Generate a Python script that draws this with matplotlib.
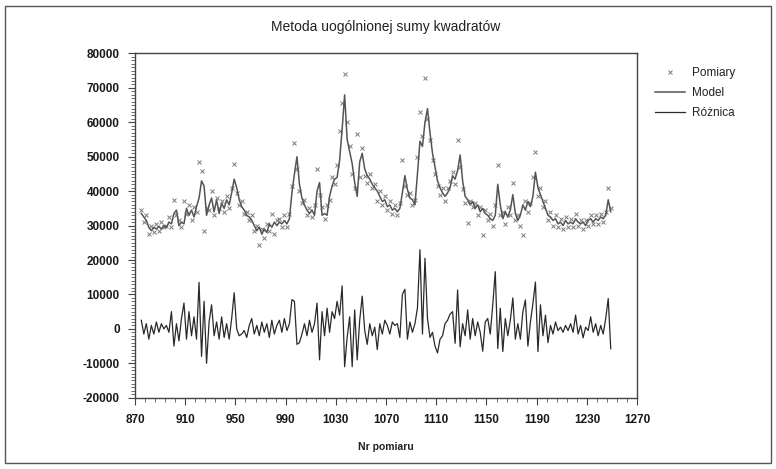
import numpy as np
import matplotlib
matplotlib.use("Agg")
import matplotlib.pyplot as plt
from matplotlib.patches import Rectangle
from matplotlib.ticker import FixedLocator, MultipleLocator

plt.rcParams['font.family'] = ['Liberation Sans', 'DejaVu Sans']
plt.rcParams['axes.unicode_minus'] = False

# numery pomiarow (co drugi pomiar)
nr = np.arange(875, 1250, 2)

# linia modelu
model = [
    33500, 32500, 31500, 29500, 28500, 29500, 29000, 29800, 29000, 30000,
    29500, 31000, 30500, 33500, 34500, 30000, 31000, 30500, 35000, 33000,
    34500, 32500, 35500, 38000, 43000, 41500, 33000, 36000, 38000, 34000,
    37500, 33500, 36500, 35000, 37500, 36000, 39500, 43500, 41000, 37500,
    35500, 34500, 33000, 32500, 31500, 30000, 28500, 29500, 27500, 29000,
    28000, 30500, 29500, 31000, 30000, 31000, 30500, 31500, 30500, 32000,
    39500, 45000, 50000, 42000, 38000, 36000, 34500, 33500, 34500, 33000,
    40000, 42500, 33000, 33500, 33000, 38500, 41500, 43500, 44000, 49000,
    58000, 68000, 55000, 51500, 48000, 42500, 38500, 48500, 51000, 46500,
    44500, 43500, 42000, 41000, 40000, 38500, 37000, 37500, 35500, 36000,
    34500, 35000, 34000, 35000, 39500, 44500, 40500, 38000, 37500, 36000,
    45000, 54500, 53000, 60000, 64000, 57000, 51000, 47000, 43000, 41000,
    39500, 38500, 39500, 41000, 44500, 43500, 46000, 50500, 43000, 38500,
    37500, 36000, 37000, 35000, 36000, 34000, 35000, 33500, 33000, 32000,
    31500, 33000, 42000, 36000, 32000, 34000, 32500, 34500, 39000, 33500,
    31500, 33000, 36000, 34500, 37000, 35500, 38500, 45500, 41000, 39000,
    37000, 35000, 33000, 32500, 31500, 32000, 30500, 31000, 30000, 31500,
    30500, 31000, 30500, 32000, 31000, 30500, 31000, 30000, 31500, 32000,
    31000, 32000, 31500, 32500, 32000, 33000, 37500, 34000,
]

# pomiary
pomiary = [
    34500, 31000, 33000, 27500, 30000, 28000, 30500, 28500, 31000, 29500,
    30000, 32500, 29500, 37500, 33000, 31500, 29500, 37000, 33500, 36000,
    31500, 35500, 34000, 48500, 46000, 28500, 35000, 34500, 40000, 33000,
    38000, 35000, 37000, 34000, 38500, 35000, 41000, 48000, 39500, 36000,
    37000, 33500, 34000, 31500, 33000, 28500, 30000, 24500, 29000, 26500,
    30500, 28500, 33500, 27500, 31500, 32000, 29500, 33000, 29500, 33500,
    41500, 54000, 46500, 40000, 36500, 37500, 33000, 35000, 32500, 36000,
    46500, 39000, 35500, 32000, 36000, 37500, 44000, 42000, 47500, 57500,
    65500, 74000, 60000, 53000, 45000, 41000, 56500, 44000, 52500, 44500,
    42500, 45000, 41000, 42000, 37000, 40000, 36000, 38500, 34500, 37000,
    33500, 36000, 33000, 36500, 49000, 41500, 39000, 39500, 36000, 37500,
    50000, 63000, 56000, 73000, 61000, 55000, 49000, 45000, 41500, 39000,
    41000, 37000, 41000, 43000, 45500, 42000, 55000, 47000, 40500, 36500,
    30800, 37000, 35500, 36500, 33000, 35500, 27300, 34500, 31500, 33500,
    30000, 36000, 47500, 33000, 34000, 30500, 35500, 33000, 42500, 31500,
    33000, 30000, 27300, 37000, 34000, 36500, 44000, 51500, 38500, 41000,
    35500, 37000, 31500, 34000, 30000, 33000, 29500, 32000, 29000, 32500,
    29500, 32000, 29500, 33500, 30000, 31500, 29000, 31500, 30000, 33000,
    30500, 33000, 30500, 33500, 31000, 34000, 41000, 35000,
]

# roznica
roznica = [
    2500, -1500, 1500, -3000, 1000, -1500, 2000, -1000, 1500, 0,
    1000, -1000, 5000, -5000, 1500, -3500, 3000, 7500, -3000, 5000,
    -2000, 3500, -3000, 13500, -8000, 8000, -10000, 2000, 7000, -2000,
    2000, -3000, 3500, -2500, 1500, -3000, 3000, 10500, 0, -2000,
    -1500, -500, -2500, 1000, 3000, -1500, 1000, -2000, 2000, -1000,
    1500, -2500, 2500, -1500, 1000, 2500, -1000, 3000, -500, 1500,
    8500, 8000, -4500, -4000, -1500, 1500, -2000, 2500, -1000, 1500,
    7500, -9000, 5000, -2000, 6000, -1000, 5000, 3000, 8000, 4000,
    12500, -11000, -2500, 3500, -11000, 5500, -9000, 2500, 9500, -500,
    -4500, 1500, -2000, 500, -6000, 1500, -1500, 2500, 1000, -1500,
    2000, 1000, 1500, -2500, 10000, 11500, -3000, 2000, -1000, 1500,
    6000, 23000, -1500, 20500, 3000, -2500, -1000, -5000, -7000, -3000,
    -2000, 1500, 2500, 4300, 5000, -4200, 11300, -5200, 1500, -2000,
    5500, -3000, 3000, -2000, 2000, -1000, -6500, 2000, 3000, -1500,
    7000, 16600, -5700, 6000, -6600, 3000, -2000, 2500, 9000, -3000,
    1500, -3000, 5000, 8400, -5000, 2000, 7400, 13600, -6600, 7000,
    -2000, 4000, -4000, 1000, -1500, 2000, -500, 500, -1000, 1000,
    -500, 1500, -1000, 4000, -1500, 1000, -2600, 500, -500, 3500,
    -1000, 1500, -2000, 1000, -1500, 3000, 8800, -5800,
]

x_ticks = np.arange(870, 1271, 40)

fig = plt.figure(figsize=(7.76, 4.69), dpi=100)
ax = fig.add_axes([0.174, 0.152, 0.647, 0.734])

ax.plot(nr, pomiary, linestyle='none', marker='x', markersize=3.5,
        markeredgewidth=0.7, color='#7a7a7a', label='Pomiary')
ax.plot(nr, model, color='#555555', linewidth=1.1, label='Model')
ax.plot(nr, roznica, color='#2a2a2a', linewidth=0.9, label='Różnica')

ax.set_xlim(870, 1270)
ax.set_ylim(-20000, 80000)
ax.xaxis.set_major_locator(FixedLocator(x_ticks))
ax.xaxis.set_minor_locator(FixedLocator(np.arange(870, 1271, 8)))
ax.yaxis.set_major_locator(MultipleLocator(10000))
ax.yaxis.set_minor_locator(MultipleLocator(1000))
ax.tick_params(which='major', direction='out', length=5, width=0.8,
               color='#444444', labelsize=8.5, labelcolor='#1a1a1a')
ax.tick_params(which='minor', direction='out', length=3, width=0.6,
               color='#555555')
ax.tick_params(axis='x', which='major', pad=7)
ax.tick_params(axis='y', which='major', pad=6)
for lab in ax.get_xticklabels() + ax.get_yticklabels():
    lab.set_fontweight('bold')
for s in ax.spines.values():
    s.set_color('#444444')
    s.set_linewidth(1.0)

fig.text(0.497, 0.942, 'Metoda uogólnionej sumy kwadratów',
         ha='center', va='center', fontsize=10, color='#222222')
fig.text(0.497, 0.047, 'Nr pomiaru', ha='center', va='center',
         fontsize=7.5, fontweight='bold', color='#222222')

fig.legend(loc='upper left', bbox_to_anchor=(0.83, 0.88), frameon=False,
           prop={'size': 8.5}, handlelength=2.6, handletextpad=0.6,
           labelspacing=0.7, labelcolor='#222222')

fig.patches.append(Rectangle((0.006, 0.012), 0.988, 0.975,
                             transform=fig.transFigure, fill=False,
                             linewidth=1.0, edgecolor='#555555'))

fig.savefig('out.png', dpi=100)
